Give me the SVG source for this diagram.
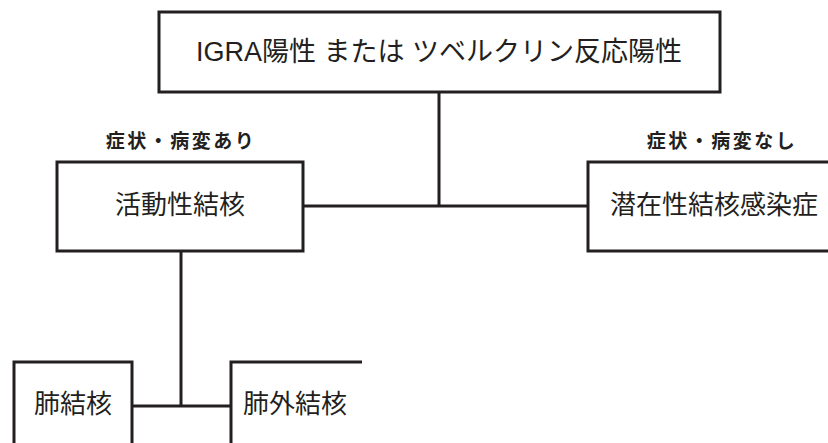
<svg xmlns="http://www.w3.org/2000/svg" width="828" height="443" viewBox="0 0 828 443">
<style>
.box{fill:#fff;stroke:#231f20;stroke-width:3}
.ln{fill:none;stroke:#231f20;stroke-width:3}
text{font-family:"Liberation Sans","Noto Sans CJK JP",sans-serif;fill:#231f20;text-anchor:middle}
.t{font-size:26px}
.top{font-size:27px}
.lab{font-size:19px;letter-spacing:2.5px;font-weight:bold}
</style>
<rect width="828" height="443" fill="#fff"/>
<g id="connectors">
<path class="ln" d="M439,92 V206 M303,206 H588"/>
<path class="ln" d="M181,251 V406 M132,406 H231"/>
</g>
<g id="root">
<rect class="box" x="159" y="12" width="561" height="80"/>
<text class="top" x="439" y="61">IGRA陽性 または ツベルクリン反応陽性</text>
</g>
<g id="label-active"><text class="lab" x="181" y="148">症状・病変あり</text></g>
<g id="label-latent"><text class="lab" x="722" y="148">症状・病変なし</text></g>
<g id="active">
<rect class="box" x="57" y="162" width="246" height="89"/>
<text class="t" x="180" y="214">活動性結核</text>
</g>
<g id="latent">
<rect class="box" x="588" y="162" width="260" height="89"/>
<text class="t" x="714" y="214">潜在性結核感染症</text>
</g>
<g id="pulmonary">
<rect class="box" x="14" y="362" width="118" height="100"/>
<text class="t" x="73" y="413">肺結核</text>
</g>
<g id="extrapulmonary">
<path class="ln" d="M362,362 H231 V460"/>
<text class="t" x="295" y="413">肺外結核</text>
</g>
</svg>
